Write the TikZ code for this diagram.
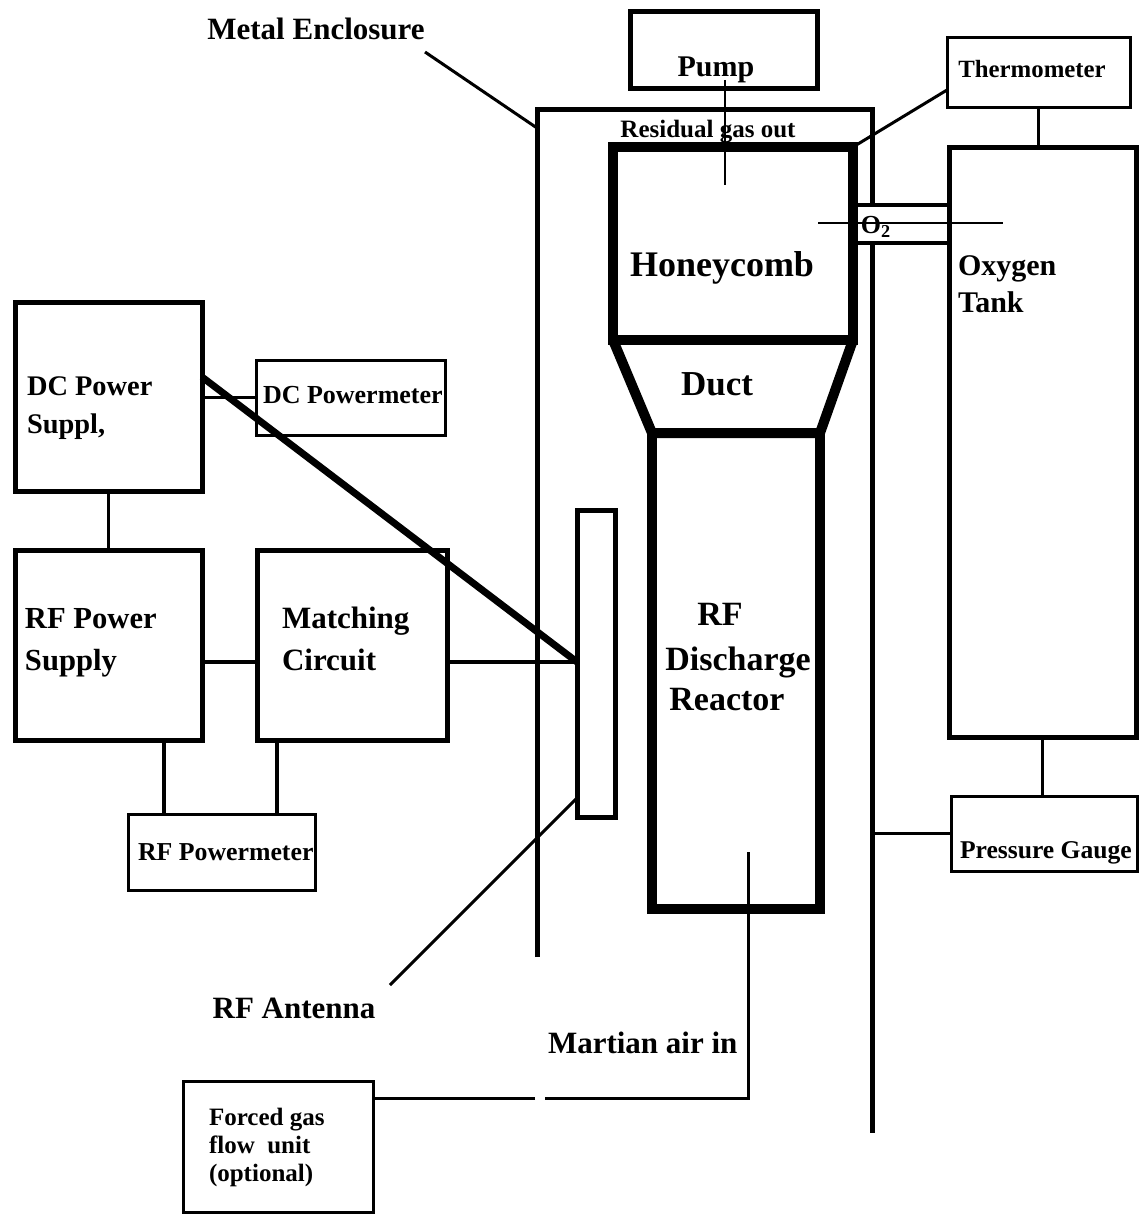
\documentclass[tikz,border=0pt]{standalone}
\usepackage{fontspec}
\setmainfont{Liberation Serif}
\usetikzlibrary{calc}
\begin{document}
\begin{tikzpicture}[x=0.5pt,y=-0.5pt,
  thinbox/.style={draw,line width=1.5pt,inner sep=0pt,outer sep=0pt},
  medbox/.style={draw,line width=2.5pt,inner sep=0pt,outer sep=0pt},
  heavybox/.style={draw,line width=5pt,inner sep=0pt,outer sep=0pt},
  txt/.style={inner sep=0pt,outer sep=0pt,font=\bfseries\fontsize{#1}{#1}\selectfont},
  wire/.style={line width=1.8pt},
  thinwire/.style={line width=1.5pt},
  ptr/.style={line width=1.5pt},
  encl/.style={line width=2.5pt}]
\useasboundingbox (0,0) rectangle (1144,1214);
\fill[white] (0,0) rectangle (1144,1214);

% boxes
\node[medbox,minimum width=93.5pt,minimum height=38.5pt] (pump) at (723.5,50.5) {};
\node[heavybox,minimum width=120pt,minimum height=96.5pt] (honey) at (733,243.5) {};
\node[heavybox,minimum width=84pt,minimum height=238pt] (reactor) at (736,671) {};
\draw[line width=5pt] (honey.south west) -- (reactor.north west) -- (reactor.north east) -- (honey.south east);
\node[thinbox,minimum width=91.5pt,minimum height=35pt] (thermo) at (1038.5,73) {};
\node[medbox,minimum width=93.5pt,minimum height=294.5pt] (tank) at (1042.5,442.5) {};
\node[thinbox,minimum width=93pt,minimum height=37.5pt] (gauge) at (1044,833.5) {};
\node[medbox,minimum width=93.5pt,minimum height=94.5pt] (dcps) at (108.5,396.5) {};
\node[thinbox,minimum width=94.5pt,minimum height=37.5pt] (dcpm) at (350.5,397.5) {};
\node[medbox,minimum width=93.5pt,minimum height=95pt] (rfps) at (108.5,645) {};
\node[medbox,minimum width=95pt,minimum height=95pt] (match) at (352,645) {};
\node[thinbox,minimum width=93.5pt,minimum height=38pt] (rfpm) at (221.5,852) {};
\node[medbox,minimum width=19pt,minimum height=153.5pt] (ant) at (596,663.5) {};
\node[thinbox,minimum width=95pt,minimum height=65.5pt] (forced) at (278,1146.5) {};

% metal enclosure
\coordinate (encBL) at (537,957);
\coordinate (encTL) at (537,110);
\coordinate (encTR) at (872,110);
\coordinate (encR1) at (872,205);
\coordinate (encR2) at (872,243);
\coordinate (encBR) at (872,1133);
\draw[encl] (encBL) -- (encTL) -- (encTR) -- (encR1);
\draw[encl] (encR2) -- (encBR);

% O2 pipe
\draw[wire] (honey.east |- encR1) -- (tank.west |- encR1);
\draw[wire] (honey.east |- encR2) -- (tank.west |- encR2);
\coordinate (o2a) at (818,223);
\coordinate (o2b) at (1003,223);
\draw[line width=0.8pt] (o2a) -- (o2b);

% pump line
\coordinate (pumpin) at (725,80);
\coordinate (honeyin) at (725,185);
\draw[line width=1pt] (pumpin) -- (honeyin);

% thermometer
\draw[ptr] ($(thermo.south west)+(0,-18)$) -- (honey.north east);
\draw[wire] (thermo.south) -- (thermo.south |- tank.north);
\draw[wire] (tank.south) -- (tank.south |- gauge.north);
\draw[wire] (gauge.west) -- (gauge.west -| encBR);

% power side
\draw[wire] (dcpm.west) -- (dcpm.west -| dcps.east);
\draw[wire] (dcps.south) -- (rfps.north);
\coordinate (feed) at ($(ant.west)+(0,-1.5)$);
\draw[wire] (rfps.east |- feed) -- (match.west |- feed);
\draw[wire] (match.east |- feed) -- (feed);
\coordinate (r1) at ($(rfps.south east)+(-38,0)$);
\draw[wire] (r1) -- (r1 |- rfpm.north);
\coordinate (m1) at ($(match.south west)+(20,0)$);
\draw[wire] (m1) -- (m1 |- rfpm.north);
\coordinate (dcout) at ($(dcps.north east)+(0,75)$);
\draw[line width=3.5pt] (dcout) -- (feed);

% pointers
\coordinate (antlbl) at (390,985);
\coordinate (antend) at ($(ant.south west)+(0,-19)$);
\draw[ptr] (antlbl) -- (antend);
\coordinate (menc) at (425,52);
\draw[ptr] (menc) -- ($(encTL)+(0,18)$);

% gas inlet
\coordinate (inlet) at (748,852);
\coordinate (gapR) at (545,1098);
\coordinate (gapL) at (535,1098);
\draw[thinwire] (inlet) |- (gapR);
\draw[thinwire] (gapL) -- (gapL -| forced.east);

% labels
\node[txt=15.5,anchor=base] (lenc) at (316,40) {Metal Enclosure};
\node[txt=15,anchor=base] (lpump) at (716,77) {Pump};
\node[txt=12.5,anchor=base] (lres) at (708,138) {Residual gas out};
\node[txt=18,anchor=base] (lhoney) at (722,277) {Honeycomb};
\node[txt=12.4,anchor=base] (lthermo) at (1032,78) {Thermometer};
\node[txt=13,anchor=base] (lo2) at (876,234) {O\textsubscript{2}};
\node[txt=15,anchor=base west] (loxy1) at (958,275) {Oxygen};
\node[txt=15,anchor=base west] (loxy2) at (958,312) {Tank};
\node[txt=14.2,anchor=base west] (ldc1) at (27,395) {DC Power};
\node[txt=14.2,anchor=base west] (ldc2) at (27,433) {Suppl,};
\node[txt=13,anchor=base west] (ldcpm) at (263,403) {DC Powermeter};
\node[txt=15.3,anchor=base west] (lrf1) at (25,628) {RF Power};
\node[txt=15.3,anchor=base west] (lrf2) at (25,670) {Supply};
\node[txt=15.5,anchor=base west] (lm1) at (282,628) {Matching};
\node[txt=15.5,anchor=base west] (lm2) at (282,670) {Circuit};
\node[txt=12.9,anchor=base west] (lrfpm) at (138,860) {RF Powermeter};
\node[txt=17.5,anchor=base] (lduct) at (717,395) {Duct};
\node[txt=17,anchor=base] (lr1) at (720,625) {RF};
\node[txt=17,anchor=base] (lr2) at (738,670) {Discharge};
\node[txt=17,anchor=base] (lr3) at (727,710) {Reactor};
\node[txt=12.8,anchor=base west] (lgauge) at (960,858) {Pressure Gauge};
\node[txt=15.5,anchor=base] (lant) at (294,1018) {RF Antenna};
\node[txt=15.5,anchor=base west] (lmars) at (548,1053) {Martian air in};
\node[txt=12.5,anchor=base west] (lf1) at (209,1125) {Forced gas};
\node[txt=12.5,anchor=base west] (lf2) at (209,1153) {flow\enspace unit};
\node[txt=12.5,anchor=base west] (lf3) at (209,1181) {(optional)};
\end{tikzpicture}
\end{document}
